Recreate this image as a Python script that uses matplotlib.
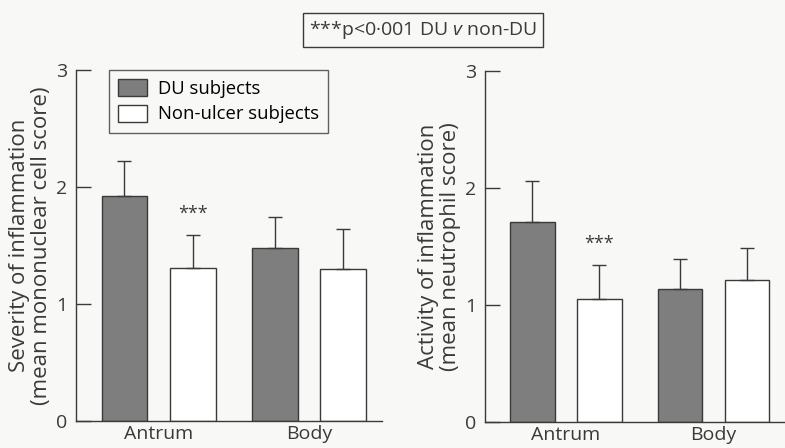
import matplotlib

matplotlib.use("Agg")
import matplotlib.pyplot as plt
import numpy as np
from matplotlib.patches import Patch

plt.rcParams["font.family"] = ["Open Sans", "DejaVu Sans"]
plt.rcParams["mathtext.fontset"] = "custom"
plt.rcParams["mathtext.it"] = "Open Sans:italic"
plt.rcParams["mathtext.rm"] = "Open Sans"

# data
sites = ["Antrum", "Body"]
series = ["DU subjects", "Non-ulcer subjects"]

severity_du = [1.92, 1.48]
severity_du_err = [0.30, 0.26]
severity_nu = [1.31, 1.30]
severity_nu_err = [0.28, 0.34]

activity_du = [1.71, 1.14]
activity_du_err = [0.35, 0.25]
activity_nu = [1.05, 1.21]
activity_nu_err = [0.29, 0.28]

sig_site = "Antrum"
sig_label = "***"

ink = "#3a3a3a"
dark = "#7e7e7e"
bg = "#f8f8f6"

fig = plt.figure(figsize=(7.85, 4.48), dpi=100, facecolor=bg)

group_x = np.array([0.0, 3.3])
off = 0.75
width = 1.0


def panel(rect, du, du_err, nu, nu_err, ylabel, star_y, legend=False):
    ax = fig.add_axes(rect, facecolor=bg)
    err_kw = dict(ecolor=ink, elinewidth=1.0, capsize=5, capthick=1.0)
    ax.bar(group_x - off, du, width, yerr=[np.zeros(2), du_err], color=dark,
           edgecolor=ink, linewidth=1.0, error_kw=err_kw, zorder=2)
    ax.bar(group_x + off, nu, width, yerr=[np.zeros(2), nu_err], color="white",
           edgecolor=ink, linewidth=1.0, error_kw=err_kw, zorder=2)
    i = sites.index(sig_site)
    ax.text(group_x[i] + off, star_y, sig_label, ha="center", va="center",
            fontsize=13, color=ink)
    ax.set_xlim(-1.81, 4.9)
    ax.set_ylim(0, 3)
    ax.set_yticks([0, 1, 2, 3])
    ax.set_yticklabels(["0", "1", "2", "3"], fontsize=14)
    ax.tick_params(axis="y", direction="in", length=11, width=1.0, color=ink,
                   labelcolor=ink, pad=6)
    ax.set_xticks(group_x)
    ax.set_xticklabels(sites, fontsize=14, color=ink)
    ax.tick_params(axis="x", length=0, pad=3)
    for s in ["top", "right"]:
        ax.spines[s].set_visible(False)
    for s in ["left", "bottom"]:
        ax.spines[s].set_color(ink)
        ax.spines[s].set_linewidth(1.0)
    ax.set_ylabel(ylabel, fontsize=16, color=ink, linespacing=1.05, labelpad=3)
    if legend:
        handles = [Patch(facecolor=dark, edgecolor=ink, label=series[0]),
                   Patch(facecolor="white", edgecolor=ink, label=series[1])]
        leg = ax.legend(handles=handles, loc="upper left", bbox_to_anchor=(0.108, 1.0),
                        borderaxespad=0, fontsize=13.3, frameon=True, fancybox=False,
                        handlelength=1.55, handleheight=1.05, handletextpad=0.6,
                        borderpad=0.5, labelspacing=0.35)
        leg.get_frame().set_edgecolor(ink)
        leg.get_frame().set_linewidth(1.0)
        leg.get_frame().set_facecolor(bg)
    return ax


panel([76 / 785, 27 / 448, 306 / 785, 351 / 448], severity_du, severity_du_err,
      severity_nu, severity_nu_err,
      "Severity of inflammation\n(mean mononuclear cell score)", 1.77, legend=True)
panel([485 / 785, 26 / 448, 300 / 785, 351 / 448], activity_du, activity_du_err,
      activity_nu, activity_nu_err,
      "Activity of inflammation\n(mean neutrophil score)", 1.52)

fig.text(423 / 785, 1 - 30 / 448, "***p<0\u00b7001 DU $\\it{v}$ non-DU", ha="center",
         va="center", fontsize=14, color=ink,
         bbox=dict(boxstyle="square,pad=0.3", facecolor=bg, edgecolor=ink, linewidth=1.0))

fig.savefig("out.png", dpi=100, facecolor=bg)
